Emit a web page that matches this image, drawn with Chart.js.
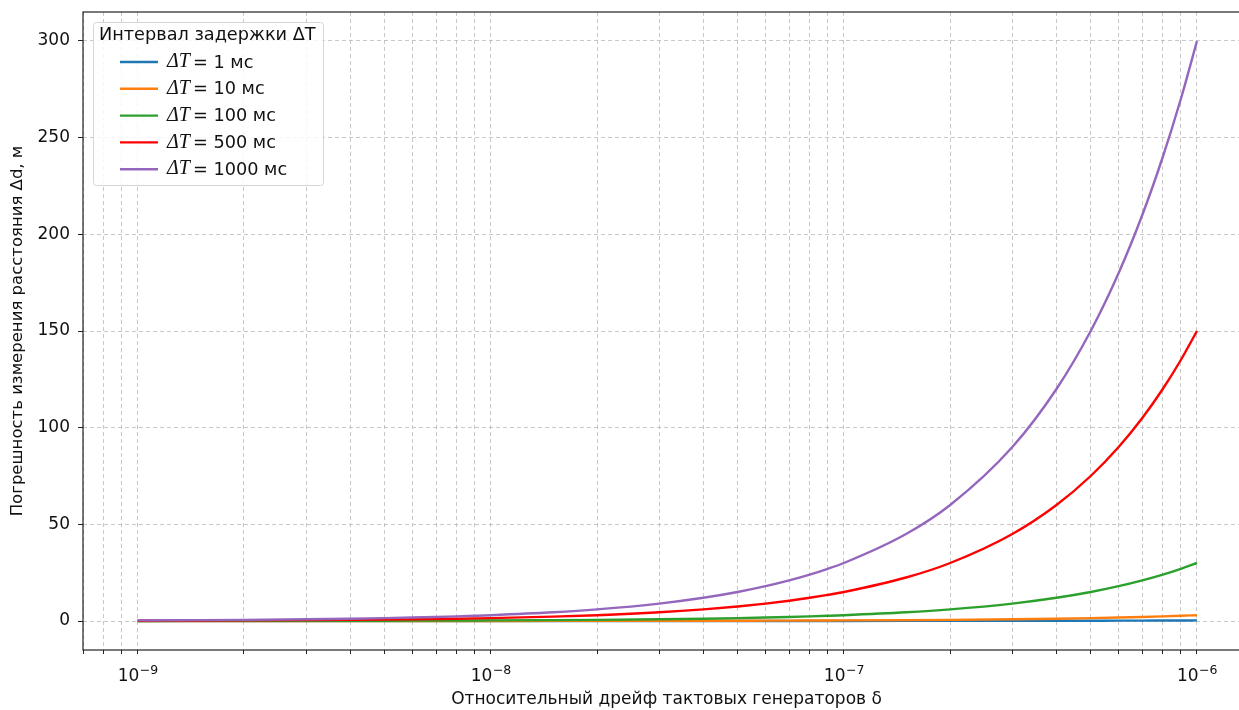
<!DOCTYPE html>
<html>
<head>
<meta charset="utf-8">
<script src="https://cdn.jsdelivr.net/npm/chart.js@4"></script>
<style>
  html, body { margin: 0; padding: 0; background: #fff; overflow: hidden; }
  #wrap { position: absolute; left: 0; top: 0; width: 1252px; height: 710px; }
</style>
</head>
<body>
<div id="wrap"><canvas id="driftChart" width="1252" height="710"></canvas></div>
<script>
// relative drift of the clocks
const delta = [1e-9, 1.5e-9, 2e-9, 3e-9, 4e-9, 5e-9, 6e-9, 7e-9, 8e-9, 9e-9,
               1e-8, 1.5e-8, 2e-8, 3e-8, 4e-8, 5e-8, 6e-8, 7e-8, 8e-8, 9e-8,
               1e-7, 1.5e-7, 2e-7, 3e-7, 4e-7, 5e-7, 6e-7, 7e-7, 8e-7, 9e-7, 1e-6];

// distance error, m
const err1ms = [0.0003, 0.00045, 0.0006, 0.0009, 0.0012, 0.0015, 0.0018, 0.0021, 0.0024, 0.0027,
                0.003, 0.0045, 0.006, 0.009, 0.012, 0.015, 0.018, 0.021, 0.024, 0.027,
                0.03, 0.045, 0.06, 0.09, 0.12, 0.15, 0.18, 0.21, 0.24, 0.27, 0.3];
const err10ms = [0.003, 0.0045, 0.006, 0.009, 0.012, 0.015, 0.018, 0.021, 0.024, 0.027,
                 0.03, 0.045, 0.06, 0.09, 0.12, 0.15, 0.18, 0.21, 0.24, 0.27,
                 0.3, 0.45, 0.6, 0.9, 1.2, 1.5, 1.8, 2.1, 2.4, 2.7, 3];
const err100ms = [0.03, 0.045, 0.06, 0.09, 0.12, 0.15, 0.18, 0.21, 0.24, 0.27,
                  0.3, 0.45, 0.6, 0.9, 1.2, 1.5, 1.8, 2.1, 2.4, 2.7,
                  3, 4.5, 6, 9, 12, 15, 18, 21, 24, 27, 30];
const err500ms = [0.15, 0.225, 0.3, 0.45, 0.6, 0.75, 0.9, 1.05, 1.2, 1.35,
                  1.5, 2.25, 3, 4.5, 6, 7.5, 9, 10.5, 12, 13.5,
                  15, 22.5, 30, 45, 60, 75, 90, 105, 120, 135, 150];
const err1000ms = [0.3, 0.45, 0.6, 0.9, 1.2, 1.5, 1.8, 2.1, 2.4, 2.7,
                   3, 4.5, 6, 9, 12, 15, 18, 21, 24, 27,
                   30, 45, 60, 90, 120, 150, 180, 210, 240, 270, 300];

const seriesLabels = ['1 мс', '10 мс', '100 мс', '500 мс', '1000 мс'];
const seriesColors = ['#1f77b4', '#ff7f0e', '#2ca02c', '#ff0000', '#9467bd'];
const seriesValues = [err1ms, err10ms, err100ms, err500ms, err1000ms];
const yTicks = [0, 50, 100, 150, 200, 250, 300];
const xLabelExps = [-9, -8, -7, -6];
const legendTitle = 'Интервал задержки ΔT';

const datasets = seriesValues.map(function (vals, i) {
    return {
        label: seriesLabels[i],
        data: delta.map(function (d, j) { return {x: d, y: vals[j]}; }),
        borderColor: seriesColors[i],
        backgroundColor: seriesColors[i],
        borderWidth: 2.4,
        pointRadius: 0,
        cubicInterpolationMode: 'monotone',
        order: seriesValues.length - i
    };
});

// frame, 10^n tick labels and matplotlib-like legend
const framePlugin = {
    id: 'frame',
    afterDraw: function (chart) {
        const ctx = chart.ctx;
        const a = chart.chartArea;
        ctx.save();
        ctx.strokeStyle = '#222';
        ctx.lineWidth = 1.2;
        ctx.strokeRect(a.left, a.top, a.right - a.left, a.bottom - a.top);

        // x tick labels as 10 with superscript exponent
        const xs = chart.scales.x;
        ctx.fillStyle = '#111';
        ctx.textBaseline = 'alphabetic';
        ctx.textAlign = 'left';
        xLabelExps.forEach(function (e) {
            const px = xs.getPixelForValue(Math.pow(10, e));
            ctx.font = '17px "DejaVu Sans"';
            const base = '10';
            const wb = ctx.measureText(base).width;
            ctx.font = '12.5px "DejaVu Sans"';
            const ex = '\u2212' + String(-e);
            const we = ctx.measureText(ex).width;
            const x0 = px - (wb + we) / 2;
            ctx.font = '17px "DejaVu Sans"';
            ctx.fillText(base, x0, 681);
            ctx.font = '12.5px "DejaVu Sans"';
            ctx.fillText(ex, x0 + wb + 0.5, 674);
        });

        // legend box
        const bx = 93, by = 22, bw = 230, bh = 163;
        ctx.beginPath();
        ctx.roundRect(bx + 0.5, by + 0.5, bw, bh, 3);
        ctx.fillStyle = 'rgba(255,255,255,0.85)';
        ctx.fill();
        ctx.strokeStyle = '#d6d6d6';
        ctx.lineWidth = 1;
        ctx.stroke();

        ctx.fillStyle = '#111';
        ctx.textBaseline = 'middle';
        ctx.font = '17.7px "DejaVu Sans"';
        ctx.fillText(legendTitle, 99, 35);

        chart.data.datasets.forEach(function (ds, i) {
            const y = 62 + i * 26.8;
            ctx.strokeStyle = ds.borderColor;
            ctx.lineWidth = 2.4;
            ctx.beginPath();
            ctx.moveTo(120, y);
            ctx.lineTo(158, y);
            ctx.stroke();
            ctx.fillStyle = '#111';
            ctx.font = 'italic 20px "Liberation Serif"';
            ctx.fillText('ΔT', 167, y);
            ctx.font = '17.7px "DejaVu Sans"';
            ctx.fillText('= ' + ds.label, 193, y + 1);
        });
        ctx.restore();
    }
};

const ctx = document.getElementById('driftChart').getContext('2d');
new Chart(ctx, {
    type: 'line',
    data: { datasets: datasets },
    plugins: [framePlugin],
    options: {
        responsive: false,
        animation: false,
        layout: { padding: { top: 12, right: 2, left: 0, bottom: 0 } },
        plugins: {
            legend: { display: false },
            tooltip: { enabled: false }
        },
        scales: {
            x: {
                type: 'logarithmic',
                min: 7.08e-10,
                max: 1.413e-6,
                afterFit: function (scale) {
                    scale.height = 60;
                    scale.paddingLeft = 0;
                    scale.paddingRight = 0;
                },
                afterBuildTicks: function (scale) {
                    const t = [];
                    for (let e = -10; e <= -6; e++) {
                        for (let m = 1; m <= 9; m++) {
                            const v = m * Math.pow(10, e);
                            if (v >= scale.min && v <= scale.max) t.push({value: v});
                        }
                    }
                    scale.ticks = t;
                },
                ticks: {
                    autoSkip: false,
                    maxRotation: 0,
                    callback: function () { return ''; }
                },
                grid: {
                    color: 'rgba(176,176,176,0.7)',
                    lineWidth: 1,
                    tickLength: 4,
                    tickColor: '#222',
                    tickBorderDash: []
                },
                border: { display: false, dash: [4, 3] },
                title: {
                    display: true,
                    text: 'Относительный дрейф тактовых генераторов δ',
                    color: '#111',
                    font: { family: 'DejaVu Sans', size: 17 },
                    padding: { top: 4, bottom: 0 }
                }
            },
            y: {
                type: 'linear',
                min: -15,
                max: 315,
                afterFit: function (scale) {
                    scale.width = 83;
                    scale.paddingTop = 0;
                    scale.paddingBottom = 0;
                },
                afterBuildTicks: function (scale) {
                    scale.ticks = yTicks.map(function (v) { return {value: v}; });
                },
                ticks: {
                    color: '#111',
                    font: { family: 'DejaVu Sans', size: 17 },
                    padding: 8
                },
                grid: {
                    color: 'rgba(176,176,176,0.7)',
                    lineWidth: 1,
                    tickLength: 5,
                    tickColor: '#222',
                    tickBorderDash: []
                },
                border: { display: false, dash: [4, 3] },
                title: {
                    display: true,
                    text: 'Погрешность измерения расстояния Δd, м',
                    color: '#111',
                    font: { family: 'DejaVu Sans', size: 16.5 },
                    padding: { top: 8, bottom: 6 }
                }
            }
        }
    }
});
</script>
</body>
</html>
